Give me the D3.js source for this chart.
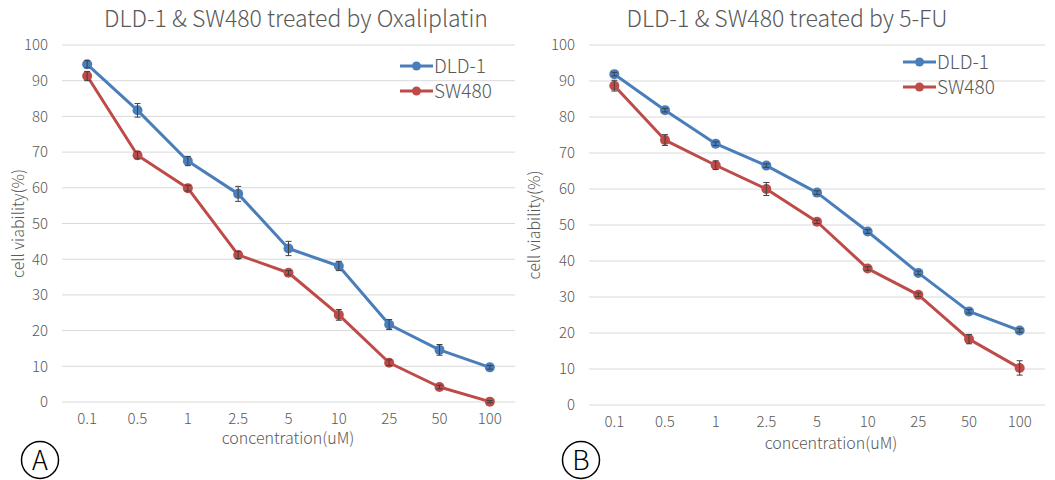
<!DOCTYPE html>
<html><head><meta charset="utf-8">
<script src="https://cdn.jsdelivr.net/npm/d3@7"></script>
<style>
body{margin:0;background:#fff;}
svg text{font-family:"Noto Sans CJK KR","Noto Sans",sans-serif;fill:#595959;font-weight:300;}
</style></head><body>
<svg id="c" width="1055" height="480"></svg>
<script>
const categories = ["0.1","0.5","1","2.5","5","10","25","50","100"];
const yTicks = [0,10,20,30,40,50,60,70,80,90,100];
const seriesNames = ["DLD-1","SW480"];
const seriesColors = ["#4A7EBB","#BE4B48"];

// Panel A: Oxaliplatin
const oxaDLD1 = [94.6,81.7,67.5,58.3,43.0,38.1,21.7,14.6,9.7];
const oxaDLD1Err = [1.0,1.9,1.3,2.1,2.0,1.3,1.4,1.5,0.5];
const oxaSW480 = [91.3,69.1,59.9,41.2,36.2,24.4,11.0,4.2,0.1];
const oxaSW480Err = [1.3,1.0,0.8,1.0,0.6,1.5,0.8,0.5,0.3];

// Panel B: 5-FU
const fuDLD1 = [91.9,81.9,72.6,66.5,59.0,48.2,36.7,26.0,20.7];
const fuDLD1Err = [0.5,0.5,0.5,0.5,0.5,0.5,0.5,0.5,0.5];
const fuSW480 = [88.7,73.6,66.6,60.0,50.9,37.9,30.6,18.3,10.3];
const fuSW480Err = [1.5,1.5,1.2,1.8,0.5,0.5,0.5,1.3,2.0];

const panels = [
  {title:"DLD-1 & SW480 treated by Oxaliplatin", label:"A",
   data:[oxaDLD1,oxaSW480], err:[oxaDLD1Err,oxaSW480Err],
   x0:62, x1:515, yTop:45, yBot:402, titleX:296, axisTitleX:288, axisTitleY:444,
   yTitleX:18, legX:400, legY:66, circ:[40,460]},
  {title:"DLD-1 & SW480 treated by 5-FU", label:"B",
   data:[fuDLD1,fuSW480], err:[fuDLD1Err,fuSW480Err],
   x0:589, x1:1045, yTop:45, yBot:405, titleX:787, axisTitleX:831, axisTitleY:449,
   yTitleX:534, legX:903, legY:62, circ:[581,460]}
];

const svg = d3.select("#c");

panels.forEach(p => {
  const g = svg.append("g");
  const x = d3.scaleBand().domain(categories).range([p.x0,p.x1]);
  const y = d3.scaleLinear().domain([0,100]).range([p.yBot,p.yTop]);

  // title
  g.append("text").attr("x",p.titleX).attr("y",27).attr("text-anchor","middle")
    .style("font-size","23px").text(p.title);

  // gridlines
  g.selectAll(".grid").data(yTicks).enter().append("line")
    .attr("x1",p.x0).attr("x2",p.x1)
    .attr("y1",d=>y(d)).attr("y2",d=>y(d))
    .attr("stroke","#d9d9d9").attr("stroke-width",1);

  // y axis
  const ya = g.append("g").attr("transform",`translate(${p.x0-14},0)`)
    .call(d3.axisLeft(y).tickValues(yTicks).tickSize(0).tickPadding(0));
  ya.select(".domain").remove();
  ya.attr("font-size",null).attr("font-family",null);
  ya.selectAll("text").style("font-size","15px").attr("fill","#595959");

  // x axis
  const xa = g.append("g").attr("transform",`translate(0,${p.yBot+11})`)
    .call(d3.axisBottom(x).tickSize(0).tickPadding(0));
  xa.select(".domain").remove();
  xa.attr("font-size",null).attr("font-family",null);
  xa.selectAll("text").style("font-size","15px").attr("fill","#595959");

  // axis titles
  g.append("text").attr("x",p.axisTitleX).attr("y",p.axisTitleY).attr("text-anchor","middle")
    .style("font-size","16px").text("concentration(uM)");
  g.append("text").attr("transform",`translate(${p.yTitleX},${(p.yTop+p.yBot)/2}) rotate(-90)`)
    .attr("text-anchor","middle").attr("dy","0.35em").style("font-size","16px").text("cell viability(%)");

  // series
  p.data.forEach((vals,si) => {
    const col = seriesColors[si];
    const pts = vals.map((v,i)=>({c:categories[i],v:v,e:p.err[si][i]}));
    const cx = d => x(d.c)+x.bandwidth()/2;
    g.append("path").datum(pts)
      .attr("d",d3.line().x(cx).y(d=>y(d.v)))
      .attr("fill","none").attr("stroke",col).attr("stroke-width",3).attr("stroke-linejoin","round");
    const eb = g.append("g");
    pts.forEach(d=>{
      eb.append("line").attr("x1",cx(d)).attr("x2",cx(d)).attr("y1",y(d.v-d.e)).attr("y2",y(d.v+d.e))
        .attr("stroke","#404040").attr("stroke-width",1);
      [d.v-d.e,d.v+d.e].forEach(vv=>{
        eb.append("line").attr("x1",cx(d)-3).attr("x2",cx(d)+3).attr("y1",y(vv)).attr("y2",y(vv))
          .attr("stroke","#404040").attr("stroke-width",1);
      });
    });
    g.selectAll(null).data(pts).enter().append("circle")
      .attr("cx",cx).attr("cy",d=>y(d.v)).attr("r",5).attr("fill",col);
    eb.raise();
  });

  // legend
  seriesNames.forEach((n,si)=>{
    const ly = p.legY + si*25;
    g.append("line").attr("x1",p.legX).attr("x2",p.legX+33).attr("y1",ly).attr("y2",ly)
      .attr("stroke",seriesColors[si]).attr("stroke-width",3);
    g.append("circle").attr("cx",p.legX+16.5).attr("cy",ly).attr("r",4.5).attr("fill",seriesColors[si]);
    g.append("text").attr("x",p.legX+34).attr("y",ly).attr("dy","0.35em")
      .style("font-size","19px").text(n);
  });

  // circled label
  g.append("circle").attr("cx",p.circ[0]).attr("cy",p.circ[1]).attr("r",18.5)
    .attr("fill","none").attr("stroke","#000").attr("stroke-width",1.5);
  g.append("text").attr("x",p.circ[0]).attr("y",p.circ[1]).attr("dy","0.36em").attr("text-anchor","middle")
    .style("font-size","27px").style("fill","#000").text(p.label);
});
</script></body></html>
